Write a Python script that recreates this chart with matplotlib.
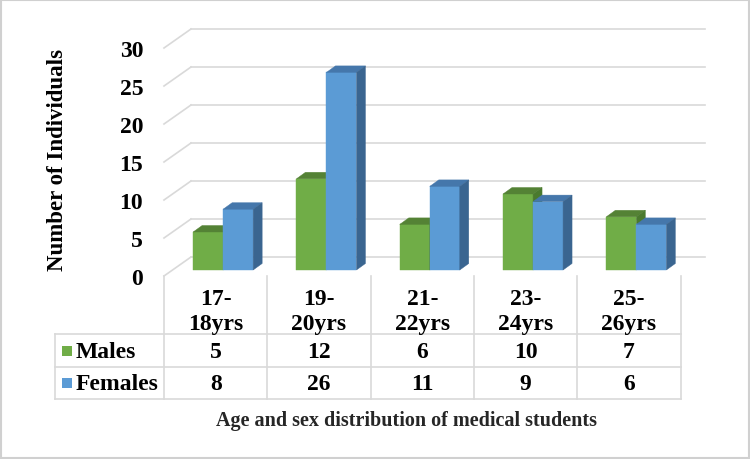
import matplotlib
matplotlib.use("Agg")
import matplotlib.pyplot as plt
from matplotlib.patches import Polygon, Rectangle

# Donnees
categories = ["17-\n18yrs", "19-\n20yrs", "21-\n22yrs", "23-\n24yrs", "25-\n26yrs"]
males = [5, 12, 6, 10, 7]
females = [8, 26, 11, 9, 6]
series_names = ["Males", "Females"]
yticks = [0, 5, 10, 15, 20, 25, 30]
ylabel = "Number of Individuals"
caption = "Age and sex distribution of medical students"

# Couleurs (face avant, dessus, cote)
green = ["#70ad47", "#548235", "#4a7a2e"]
blue = ["#5b9bd5", "#4577ab", "#3a6590"]
gridcol = "#d9d9d9"

# Geometrie en pixels
W, H = 750, 460
COL = 103.3          # px par categorie
UNIT = 7.6           # px par individu
LEFT, FLOOR = 164, 277
RIGHT, TOP = 705, 29
TAB_LEFT = 55
ROW1, ROW2, ROW3 = 335, 368, 400
FS = 17


def px_box(x0, y0, x1, y1):
    return [x0 / W, 1 - y1 / H, (x1 - x0) / W, (y1 - y0) / H]


plt.rcParams['font.family'] = ['Liberation Serif', 'DejaVu Serif']
plt.rcParams['font.weight'] = 'bold'

fig = plt.figure(figsize=(W / 100, H / 100), dpi=100)
fig.patch.set_facecolor("white")

# Axe principal : x en categories, y en individus
ax = fig.add_axes(px_box(LEFT, TOP, RIGHT, FLOOR))
xmax = -0.5 + (RIGHT - LEFT) / COL
ax.set_xlim(-0.5, xmax)
ax.set_ylim(0, (FLOOR - TOP) / UNIT)
ax.patch.set_visible(False)
for s in ax.spines.values():
    s.set_visible(False)
ax.set_xticks([])
ax.set_yticks(yticks)
ax.set_yticklabels([str(v) for v in yticks])
ax.tick_params(axis='y', length=0, pad=15, labelsize=FS)

# Murs : profondeur
wdx, wdy = 27 / COL, 19 / UNIT
for v in yticks:
    ax.plot([-0.5, -0.5 + wdx], [v, v + wdy], color=gridcol, lw=1.2, clip_on=False, zorder=1)
    ax.plot([-0.5 + wdx, xmax], [v + wdy, v + wdy], color=gridcol, lw=1.2, clip_on=False, zorder=1)

# Barres 3D
sx, sy = 7.5 / COL, 6 / UNIT
bw = 30 / COL
bdx, bdy = 9 / COL, 6.5 / UNIT
z = 3
for i in range(len(categories)):
    for j, (vals, cols) in enumerate([(males, green), (females, blue)]):
        v = vals[i]
        x0 = i + sx - bw + j * bw
        top = sy + v
        ax.bar(x0, v, width=bw, bottom=sy, align='edge', color=cols[0],
               edgecolor=cols[0], lw=0.3, zorder=z, clip_on=False)
        ax.add_patch(Polygon([(x0, top), (x0 + bw, top), (x0 + bw + bdx, top + bdy),
                              (x0 + bdx, top + bdy)], closed=True, facecolor=cols[1],
                             edgecolor=cols[1], lw=0.3, zorder=z, clip_on=False))
        ax.add_patch(Polygon([(x0 + bw, sy), (x0 + bw + bdx, sy + bdy),
                              (x0 + bw + bdx, top + bdy), (x0 + bw, top)], closed=True,
                             facecolor=cols[2], edgecolor=cols[2], lw=0.3, zorder=z,
                             clip_on=False))
        z += 1

# Tableau de donnees (coordonnees pixels)
tx = fig.add_axes([0, 0, 1, 1])
tx.set_xlim(0, W)
tx.set_ylim(H, 0)
tx.axis('off')
tx.patch.set_visible(False)

edges = [LEFT + COL * k for k in range(len(categories) + 1)]
for e in edges:
    tx.plot([e, e], [FLOOR, ROW3], color=gridcol, lw=1.2)
tx.plot([TAB_LEFT, TAB_LEFT], [ROW1, ROW3], color=gridcol, lw=1.2)
for r in [ROW1, ROW2, ROW3]:
    tx.plot([TAB_LEFT, edges[-1]], [r, r], color=gridcol, lw=1.2)

for i, cat in enumerate(categories):
    cx = LEFT + COL * (i + 0.5)
    tx.text(cx, (FLOOR + ROW1) / 2 + 6, cat, ha='center', va='center', fontsize=FS,
            linespacing=1.22)
    tx.text(cx, (ROW1 + ROW2) / 2 + 1, str(males[i]), ha='center', va='center', fontsize=FS)
    tx.text(cx, (ROW2 + ROW3) / 2 + 1, str(females[i]), ha='center', va='center', fontsize=FS)

for k, (name, cols) in enumerate(zip(series_names, [green, blue])):
    yc = (ROW1 + ROW2) / 2 if k == 0 else (ROW2 + ROW3) / 2
    tx.add_patch(Rectangle((62, yc - 5), 10, 10, facecolor=cols[0], edgecolor='none'))
    tx.text(76, yc + 1, name, ha='left', va='center', fontsize=FS)

tx.text(406, 421, caption, ha='center', va='center', fontsize=14.5, color="#262626")
tx.text(58, 160, ylabel, ha='center', va='center', rotation=90, fontsize=16.5)

# Cadre
tx.add_patch(Rectangle((1, 1), W - 2, H - 2, facecolor='none', edgecolor='#d0d0d0', lw=1.5))

fig.savefig("out.png", dpi=100)
